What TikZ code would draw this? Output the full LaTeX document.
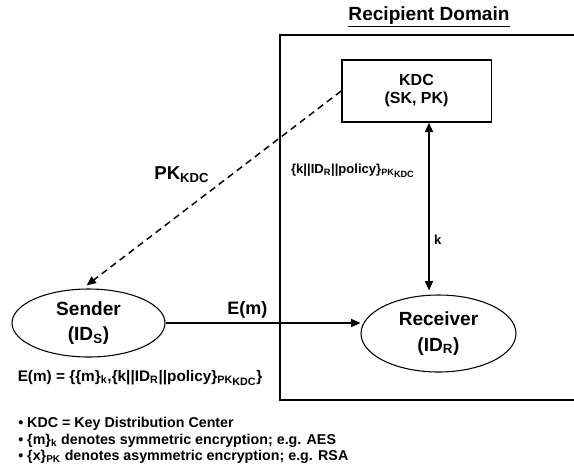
\documentclass[tikz,border=0pt]{standalone}
\usepackage{fontspec}
\setmainfont{Liberation Sans}
\usetikzlibrary{positioning, arrows.meta, shapes.geometric}

\newcommand{\pkkdc}{\textsubscript{PK\raisebox{-0.4ex}{KDC}}}

\begin{document}
\begin{tikzpicture}[
        x=0.75pt, y=-0.75pt,
        party/.style={draw, ellipse, line width=0.8pt, inner sep=0pt, align=center, font={\fontsize{14.3}{19}\selectfont\bfseries}},
        kdcbox/.style={draw, rectangle, line width=1pt, inner sep=0pt, minimum width=112pt, minimum height=46.5pt, align=center, font={\fontsize{12}{13.5}\selectfont\bfseries}},
        biglabel/.style={font={\fontsize{14}{16}\selectfont\bfseries}},
        smalllabel/.style={font={\fontsize{9.8}{12}\selectfont\bfseries}},
        note/.style={anchor=base west, inner sep=0pt, font={\fontsize{10.7}{12.4}\selectfont\bfseries}},
        arrow/.style={-{Triangle[length=7pt, width=6pt]}, line width=1.1pt},
        dualarrow/.style={{Triangle[length=7pt, width=6pt]}-{Triangle[length=7pt, width=6pt]}, line width=1.1pt}
    ]
    \useasboundingbox (0,0) rectangle (574,472);

    % recipient domain
    \node[font={\fontsize{14.3}{16}\selectfont\bfseries}] (Title) at (429,17) {\underline{Recipient Domain}};
    \draw[line width=1.2pt] (574,35) -- (280,35) -- (280,400) -- (574,400);

    \node[kdcbox] (KDC) at (416.5,91) {KDC\\(SK, PK)};
    \node[party, minimum width=114.75pt, minimum height=51pt] (Sender) at (88.5,323) {Sender\\(ID\textsubscript{S})};
    \node[party, minimum width=116.25pt, minimum height=57.75pt] (Receiver) at (438.5,333.5) {Receiver\\(ID\textsubscript{R})};
    \coordinate (KeyLine) at (429,0);

    \draw[dualarrow, shorten >=3pt] (KDC.south -| KeyLine) -- node[smalllabel, left=7pt, pos=0.28] (WrapLbl) {\{k||ID\textsubscript{R}||policy\}\pkkdc} node[smalllabel, right, pos=0.68] (KeyLbl) {k} (Receiver.north -| KeyLine);
    \draw[arrow, dash pattern=on 5pt off 3.5pt, shorten >=4pt] (KDC.west) -- node[biglabel, above left, pos=0.49] (PkLbl) {PK\textsubscript{KDC}} (Sender.100);
    \draw[arrow] (Sender.east) -- node[font={\fontsize{13.5}{16}\selectfont\bfseries}, above, pos=0.42] (MsgLbl) {E(m)} (Sender.east -| Receiver.west);

    \node[font={\fontsize{11.5}{14}\selectfont\bfseries}] (Formula) at (140,378) {E(m) = \{\{m\}\textsubscript{k},\{k||ID\textsubscript{R}||policy\}\pkkdc\}};

    % notes
    \node[note] (NoteA) at (18,427) {• KDC = Key Distribution Center};
    \node[note] (NoteB) at (18,444) {• \{m\}\textsubscript{k} denotes symmetric encryption; e.g. AES};
    \node[note] (NoteC) at (18,460) {• \{x\}\textsubscript{PK} denotes asymmetric encryption; e.g. RSA};

\end{tikzpicture}
\end{document}
